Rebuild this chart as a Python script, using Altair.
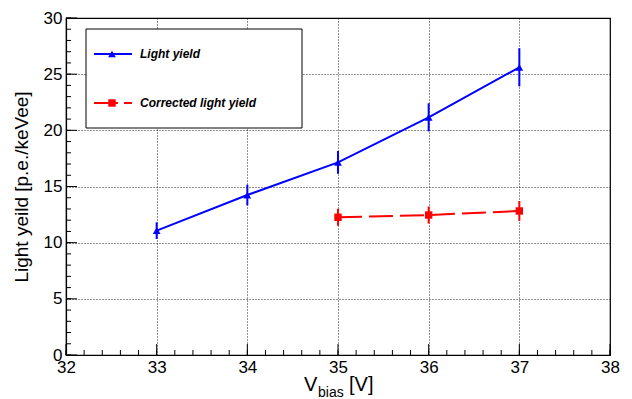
import altair as alt
import pandas as pd

# ---- data ----
vbias = [33, 34, 35, 36, 37]
light_yield = [11.07, 14.24, 17.15, 21.16, 25.61]
light_yield_err = [0.74, 0.92, 1.02, 1.25, 1.70]

vbias_corr = [35, 36, 37]
corr_yield = [12.26, 12.46, 12.82]
corr_yield_err = [0.76, 0.76, 0.89]

x_ticks = [32, 33, 34, 35, 36, 37, 38]
y_ticks = [0, 5, 10, 15, 20, 25, 30]
x_minor = [round(32 + 0.2 * i, 1) for i in range(31)]
y_minor = list(range(0, 31))

FONT = "Liberation Sans"
W, H = 544, 337
BLUE = "#0000ff"
RED = "#ff0000"

ly = pd.DataFrame({
    "v": vbias, "y": light_yield,
    "lo": [a - b for a, b in zip(light_yield, light_yield_err)],
    "hi": [a + b for a, b in zip(light_yield, light_yield_err)],
})
cy = pd.DataFrame({
    "v": vbias_corr, "y": corr_yield,
    "lo": [a - b for a, b in zip(corr_yield, corr_yield_err)],
    "hi": [a + b for a, b in zip(corr_yield, corr_yield_err)],
})

xs = alt.Scale(domain=[32, 38], nice=False, zero=False)
ys = alt.Scale(domain=[0, 30], nice=False, zero=False)

xaxis = alt.Axis(values=x_ticks, format="d", title=None, ticks=False,
                 labelFont=FONT, labelFontSize=17, labelColor="black",
                 labelPadding=4, labelFlush=False,
                 grid=True, gridColor="black", gridDash=[1, 2], gridOpacity=0.85,
                 domainColor="black", domainWidth=1.2)
yaxis = alt.Axis(values=y_ticks, format="d", title="Light yeild [p.e./keVee]",
                 titleFont=FONT, titleFontSize=19, titleFontWeight="normal",
                 titleColor="black", titlePadding=12, ticks=False,
                 labelFont=FONT, labelFontSize=17, labelColor="black",
                 labelPadding=4,
                 grid=True, gridColor="black", gridDash=[1, 2], gridOpacity=0.85,
                 domainColor="black", domainWidth=1.2)


def X(f):
    return alt.X(f, type="quantitative", scale=xs, axis=xaxis)


def Y(f):
    return alt.Y(f, type="quantitative", scale=ys, axis=yaxis)


# data layers
blue_line = alt.Chart(ly).mark_line(color=BLUE, strokeWidth=2).encode(x=X("v"), y=Y("y"))
blue_err = alt.Chart(ly).mark_rule(color=BLUE, strokeWidth=2).encode(x=X("v"), y=Y("lo"), y2="hi")
blue_pts = alt.Chart(ly).mark_point(shape="triangle-up", filled=True, color=BLUE,
                                    size=60, opacity=1).encode(x=X("v"), y=Y("y"))

red_line = alt.Chart(cy).mark_line(color=RED, strokeWidth=2, strokeDash=[24, 7]).encode(x=X("v"), y=Y("y"))
red_err = alt.Chart(cy).mark_rule(color=RED, strokeWidth=2).encode(x=X("v"), y=Y("lo"), y2="hi")
red_pts = alt.Chart(cy).mark_point(shape="square", filled=True, color=RED,
                                   size=55, opacity=1).encode(x=X("v"), y=Y("y"))

# inward ticks
xt_major = alt.Chart(pd.DataFrame({"v": x_ticks})).mark_rule(color="black", strokeWidth=1).encode(
    x=X("v"), y=alt.value(H), y2=alt.value(H - 11))
xt_minor = alt.Chart(pd.DataFrame({"v": x_minor})).mark_rule(color="black", strokeWidth=1).encode(
    x=X("v"), y=alt.value(H), y2=alt.value(H - 5))
yt_major = alt.Chart(pd.DataFrame({"y": y_ticks})).mark_rule(color="black", strokeWidth=1).encode(
    y=Y("y"), x=alt.value(0), x2=alt.value(11))
yt_minor = alt.Chart(pd.DataFrame({"y": y_minor})).mark_rule(color="black", strokeWidth=1).encode(
    y=Y("y"), x=alt.value(0), x2=alt.value(5))

# legend (drawn by hand)
one = pd.DataFrame({"a": [0]})
leg_box = alt.Chart(one).mark_rect(fill="white", stroke="black", strokeWidth=1).encode(
    x=alt.value(20), x2=alt.value(236), y=alt.value(11), y2=alt.value(110))
leg_bl = alt.Chart(one).mark_rule(color=BLUE, strokeWidth=2).encode(
    x=alt.value(28), x2=alt.value(66), y=alt.value(36))
leg_bp = alt.Chart(one).mark_point(shape="triangle-up", filled=True, color=BLUE, size=60, opacity=1).encode(
    x=alt.value(46), y=alt.value(36))
leg_bt = alt.Chart(one).mark_text(text="Light yield", align="left", baseline="middle", font=FONT,
                                  fontSize=12, fontStyle="italic", fontWeight="bold", color="black").encode(
    x=alt.value(74), y=alt.value(36))
leg_rl = alt.Chart(one).mark_rule(color=RED, strokeWidth=2, strokeDash=[24, 6]).encode(
    x=alt.value(28), x2=alt.value(66), y=alt.value(85))
leg_rp = alt.Chart(one).mark_point(shape="square", filled=True, color=RED, size=55, opacity=1).encode(
    x=alt.value(46), y=alt.value(85))
leg_rt = alt.Chart(one).mark_text(text="Corrected light yield", align="left", baseline="middle", font=FONT,
                                  fontSize=12, fontStyle="italic", fontWeight="bold", color="black").encode(
    x=alt.value(74), y=alt.value(85))

# x title with subscript
xt_V = alt.Chart(one).mark_text(text="V", align="left", baseline="alphabetic", font=FONT,
                                fontSize=20, color="black").encode(x=alt.value(238), y=alt.value(373))
xt_bias = alt.Chart(one).mark_text(text="bias", align="left", baseline="alphabetic", font=FONT,
                                   fontSize=14, color="black").encode(x=alt.value(252), y=alt.value(379))
xt_unit = alt.Chart(one).mark_text(text="[V]", align="left", baseline="alphabetic", font=FONT,
                                   fontSize=20, color="black").encode(x=alt.value(283), y=alt.value(373))

chart = alt.layer(
    blue_line, red_line, blue_err, red_err, blue_pts, red_pts,
    xt_major, xt_minor, yt_major, yt_minor,
    leg_box, leg_bl, leg_bp, leg_bt, leg_rl, leg_rp, leg_rt,
    xt_V, xt_bias, xt_unit,
).properties(
    width=W, height=H,
    autosize=alt.AutoSizeParams(type="none"),
    padding={"left": 58, "top": 10, "right": 14, "bottom": 44},
    background="white",
).configure_view(stroke="black", strokeWidth=1.2)

chart.save("out.html", embed_options={"renderer": "svg", "actions": False})
